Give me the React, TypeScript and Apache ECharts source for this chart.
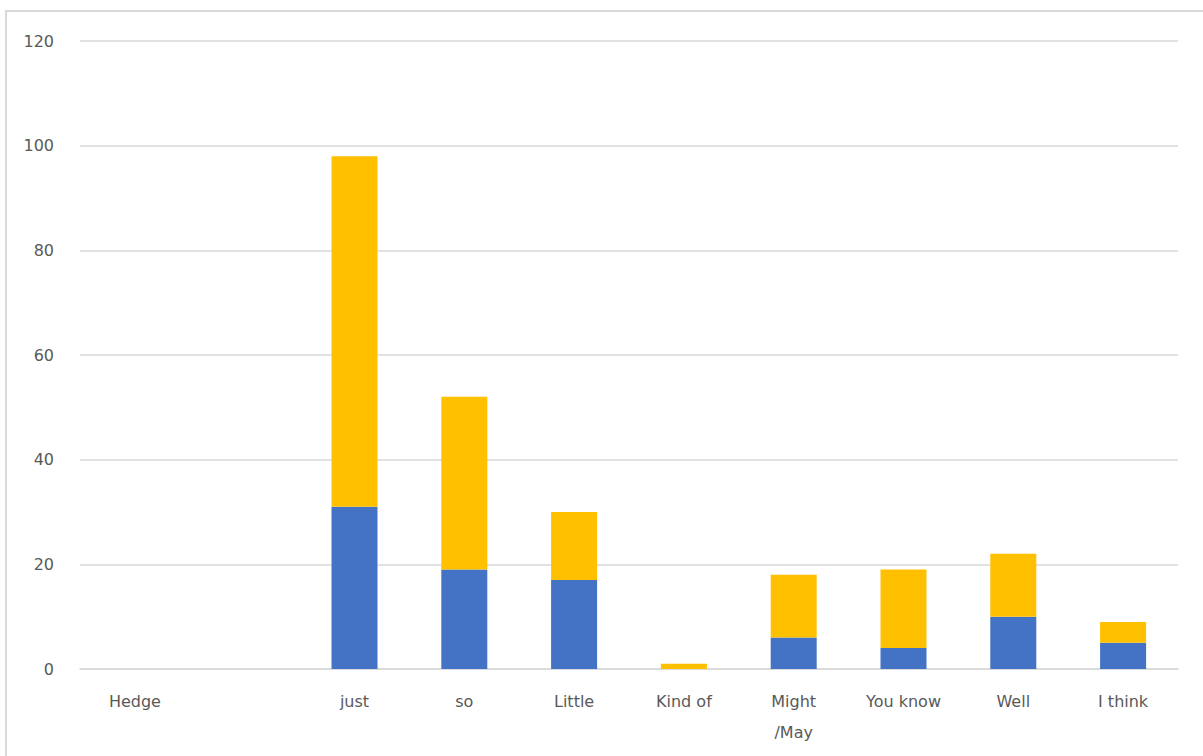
import React, { useEffect, useRef } from "react";
import * as echarts from "echarts";

// Hedge words and their counts, split into two stacked groups
const categories = ["Hedge", "", "just", "so", "Little", "Kind of", "Might\n/May", "You know", "Well", "I think"];
const blueValues = [null, null, 31, 19, 17, 0, 6, 4, 10, 5];
const orangeValues = [null, null, 67, 33, 13, 1, 12, 15, 12, 4];
const yTicks = { min: 0, max: 120, interval: 20 };

const TEXT = "#595959";
const GRID = "#D9D9D9";
const FONT = "DejaVu Sans";

export default function App() {
  const ref = useRef<HTMLDivElement>(null);

  useEffect(() => {
    if (!ref.current) return;
    const chart = echarts.init(ref.current, null, { renderer: "svg" });
    chart.setOption({
      animation: false,
      backgroundColor: "#ffffff",
      textStyle: { fontFamily: FONT },
      grid: { left: 80, right: 25, top: 41, bottom: 87, containLabel: false },
      xAxis: {
        type: "category",
        data: categories,
        axisLine: { show: true, lineStyle: { color: GRID, width: 1.5 } },
        axisTick: { show: false },
        axisLabel: {
          color: TEXT,
          fontSize: 16,
          fontFamily: FONT,
          margin: 17,
          lineHeight: 31,
          interval: 0,
        },
      },
      yAxis: {
        type: "value",
        min: yTicks.min,
        max: yTicks.max,
        interval: yTicks.interval,
        axisLine: { show: false },
        axisTick: { show: false },
        splitLine: { lineStyle: { color: GRID, width: 1.5 } },
        axisLabel: { color: TEXT, fontSize: 16, fontFamily: FONT, margin: 26 },
      },
      series: [
        {
          name: "Group 1",
          type: "bar",
          stack: "total",
          data: blueValues,
          barWidth: 46,
          itemStyle: { color: "#4472C4" },
        },
        {
          name: "Group 2",
          type: "bar",
          stack: "total",
          data: orangeValues,
          barWidth: 46,
          itemStyle: { color: "#FFC000" },
        },
      ],
      graphic: [
        {
          type: "rect",
          shape: { x: 6, y: 11, width: 1210, height: 760 },
          style: { fill: "none", stroke: GRID, lineWidth: 2 },
          silent: true,
        },
      ],
    });
    return () => chart.dispose();
  }, []);

  return (
    <div
      ref={ref}
      style={{ position: "absolute", left: 0, top: 0, width: 1203, height: 756 }}
    />
  );
}
